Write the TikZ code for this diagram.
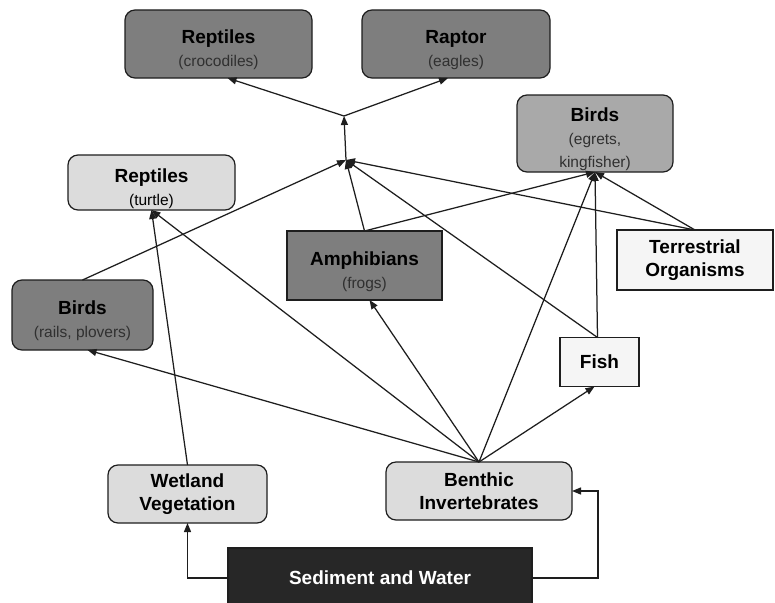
\documentclass[tikz,border=0pt]{standalone}
\usepackage{fontspec}
\setmainfont{Liberation Sans}
\usetikzlibrary{arrows.meta,calc}
\definecolor{darkbox}{HTML}{7E7E7E}
\definecolor{midbox}{HTML}{A9A9A9}
\definecolor{lightbox}{HTML}{DCDCDC}
\definecolor{whitebox}{HTML}{F5F5F5}
\definecolor{sedbox}{HTML}{272727}
\definecolor{linec}{HTML}{1E1E1E}
\definecolor{subdark}{HTML}{303030}
\newcommand\ttl[1]{{\fontsize{19}{23}\selectfont\bfseries #1}}
\newcommand\ttlx[1]{\rule{0pt}{26pt}{\fontsize{19}{23}\selectfont\bfseries #1}}
\newcommand\sbt[1]{{\fontsize{15.5}{23}\selectfont #1}}
\begin{document}
\begin{tikzpicture}[x=1pt,y=-1pt,
  box/.style={draw=linec, line width=1.2pt, inner sep=0pt, outer sep=0pt, align=center,
    font=\fontsize{15.5}{23}\selectfont, text=black},
  rbox/.style={box, rounded corners=10pt},
  conn/.style={draw=linec, line width=1.25pt},
  arr/.style={conn, -{Triangle[length=9pt,width=7pt]}}]
\useasboundingbox (0,0) rectangle (775,602);
\clip (0,0) rectangle (775,602);
\fill[white] (0,0) rectangle (775,602);

% nodes
\node[rbox, fill=darkbox, minimum width=187pt, minimum height=68pt] (croc) at (218.5,44)
  {\ttlx{Reptiles}\\\textcolor{subdark}{\sbt{(crocodiles)}}};
\node[rbox, fill=darkbox, minimum width=188pt, minimum height=68pt] (raptor) at (456,44)
  {\ttlx{Raptor}\\\textcolor{subdark}{\sbt{(eagles)}}};
\node[rbox, fill=midbox, minimum width=156pt, minimum height=77pt] (egrets) at (595,133.5)
  {\ttlx{Birds}\\\textcolor{subdark}{\sbt{(egrets,}}\\\textcolor{subdark}{\sbt{kingfisher)}}};
\node[rbox, fill=lightbox, minimum width=167pt, minimum height=55pt] (turtle) at (151.5,182.5)
  {\ttlx{Reptiles}\\\sbt{(turtle)}};
\node[box, fill=darkbox, minimum width=155pt, minimum height=69pt] (amph) at (364.5,265.5)
  {\ttlx{Amphibians}\\\textcolor{subdark}{\sbt{(frogs)}}};
\node[box, fill=whitebox, minimum width=156pt, minimum height=60pt] (terr) at (695,260)
  {\ttl{Terrestrial}\\\ttl{Organisms}};
\node[rbox, fill=darkbox, minimum width=141pt, minimum height=70pt] (rails) at (82.5,315)
  {\ttlx{Birds}\\\textcolor{subdark}{\sbt{(rails, plovers)}}};
\node[box, fill=whitebox, minimum width=79pt, minimum height=49pt] (fish) at (599.5,362)
  {\ttl{Fish}};
\node[rbox, fill=lightbox, minimum width=159pt, minimum height=58pt] (wetland) at (187.5,494)
  {\ttl{Wetland}\\\ttl{Vegetation}};
\node[rbox, fill=lightbox, minimum width=186pt, minimum height=58pt] (benthic) at (479,491)
  {\ttl{Benthic}\\\ttl{Invertebrates}};
\node[box, fill=sedbox, minimum width=304pt, minimum height=60pt, text=white] (sed) at (380,578)
  {\ttl{Sediment and Water}};

% junctions
\coordinate (J1) at (344,116);
\coordinate (J2) at (346,160);

% sediment feeds
\draw[arr] (sed.west) -| (wetland.south);
\draw[arr] (sed.east) -- (598,578) |- (benthic.east);

% benthic invertebrates
\draw[arr] (benthic.north) -- ($(rails.south)+(5,0)$);
\draw[arr] (benthic.north) -- (turtle.south);
\draw[arr] (benthic.north) -- ($(amph.south)+(5,0)$);
\draw[arr] (benthic.north) -- ($(fish.south)+(-5,0)$);
\draw[arr] (benthic.north) -- (egrets.south);

% wetland vegetation
\draw[arr] (wetland.north) -- (turtle.south);

% to junction J2
\draw[arr] (rails.north) -- (J2);
\draw[arr] (amph.north) -- (J2);
\draw[arr] ($(fish.north)+(-2,0)$) -- (J2);
\draw[arr] (terr.north) -- (J2);

% to birds (egrets)
\draw[arr] (amph.north) -- (egrets.south);
\draw[arr] ($(fish.north)+(-2,0)$) -- (egrets.south);
\draw[arr] (terr.north) -- (egrets.south);

% up to top predators
\draw[arr] (J2) -- (J1);
\draw[arr] (J1) -- ($(croc.south)+(9,0)$);
\draw[arr] (J1) -- ($(raptor.south)+(-8,0)$);
\end{tikzpicture}
\end{document}
